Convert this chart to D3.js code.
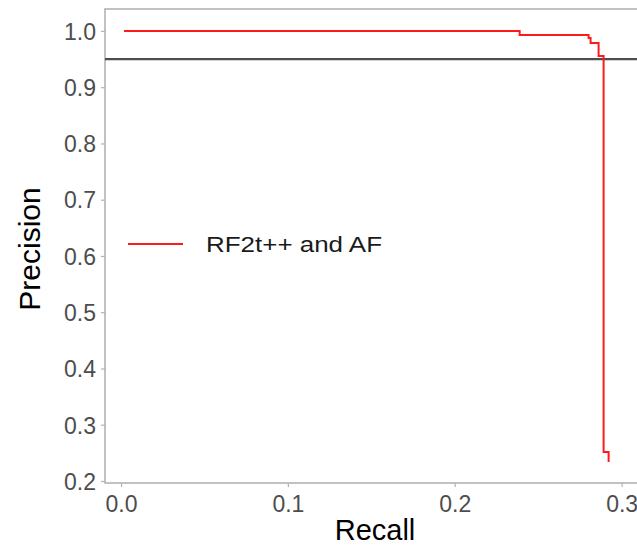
<!DOCTYPE html>
<html>
<head>
<meta charset="utf-8">
<script src="https://cdn.jsdelivr.net/npm/d3@7"></script>
<style>
  html, body { margin: 0; padding: 0; background: #fff; }
  svg { display: block; font-family: "Liberation Sans", Arial, Helvetica, sans-serif; }
</style>
</head>
<body>
<svg id="chart" width="637" height="547"></svg>
<script>
// Precision-recall curve vertices (stepped)
const recall    = [0.0018, 0.2389, 0.2802, 0.2814, 0.2862, 0.2892, 0.2922];
const precision = [1.0,    0.993,  0.9876, 0.9787, 0.9556, 0.2516, 0.2338];
const seriesName = "RF2t++ and AF";
const threshold = 0.95;
const xTicks = [0.0, 0.1, 0.2, 0.3];
const yTicks = [0.2, 0.3, 0.4, 0.5, 0.6, 0.7, 0.8, 0.9, 1.0];

const svg = d3.select("#chart");

// Scales: panel spans beyond the right edge of the canvas
const x = d3.scaleLinear().domain([-0.0096, 0.323]).range([105, 660]);
const y = d3.scaleLinear().domain([0.1964, 1.039]).range([483, 9]);

const panel = { x0: x.range()[0], x1: x.range()[1], y0: y.range()[1], y1: y.range()[0] };

// Panel border
svg.append("rect")
  .attr("x", panel.x0).attr("y", panel.y0)
  .attr("width", panel.x1 - panel.x0).attr("height", panel.y1 - panel.y0)
  .attr("fill", "none").attr("stroke", "#b3b3b3").attr("stroke-width", 1.6);

// Axes
const xAxis = d3.axisBottom(x).tickValues(xTicks).tickFormat(d3.format(".1f"))
  .tickSize(4).tickPadding(4);
const yAxis = d3.axisLeft(y).tickValues(yTicks).tickFormat(d3.format(".1f"))
  .tickSize(4).tickPadding(5);

const gx = svg.append("g").attr("transform", `translate(0,${panel.y1})`).call(xAxis);
const gy = svg.append("g").attr("transform", `translate(${panel.x0},0)`).call(yAxis);

[gx, gy].forEach(g => {
  g.select(".domain").remove();
  g.selectAll(".tick line").attr("stroke", "#b3b3b3").attr("stroke-width", 1.2);
  g.selectAll(".tick text")
    .attr("fill", "#4d4d4d")
    .style("font-size", "23px")
    .attr("font-family", "Liberation Sans, Arial, sans-serif");
});
gx.selectAll(".tick text").attr("dy", "0.92em");
gy.selectAll(".tick text").attr("dy", "0.36em");

// Threshold line
svg.append("line")
  .attr("x1", panel.x0).attr("x2", panel.x1)
  .attr("y1", y(threshold)).attr("y2", y(threshold))
  .attr("stroke", "#4d4d4d").attr("stroke-width", 2.2);

// PR curve
const pts = recall.map((r, i) => [r, precision[i]]);
svg.append("path")
  .datum(pts)
  .attr("fill", "none")
  .attr("stroke", "#ff1a1a")
  .attr("stroke-width", 2)
  .attr("d", d3.line().x(d => x(d[0])).y(d => y(d[1])).curve(d3.curveStepAfter));

// Axis titles
svg.append("text")
  .attr("x", 375).attr("y", 540)
  .attr("text-anchor", "middle")
  .style("font-size", "29px").attr("fill", "#000")
  .text("Recall");

svg.append("text")
  .attr("transform", "translate(40,249) rotate(-90)")
  .attr("text-anchor", "middle")
  .style("font-size", "30px").attr("fill", "#000")
  .text("Precision");

// Legend
svg.append("line")
  .attr("x1", 128).attr("x2", 183)
  .attr("y1", 244).attr("y2", 244)
  .attr("stroke", "#ff1a1a").attr("stroke-width", 2);

svg.append("text")
  .attr("x", 206).attr("y", 252)
  .style("font-size", "22px").attr("fill", "#1a1a1a")
  .attr("textLength", 176).attr("lengthAdjust", "spacingAndGlyphs")
  .text(seriesName);
</script>
</body>
</html>
